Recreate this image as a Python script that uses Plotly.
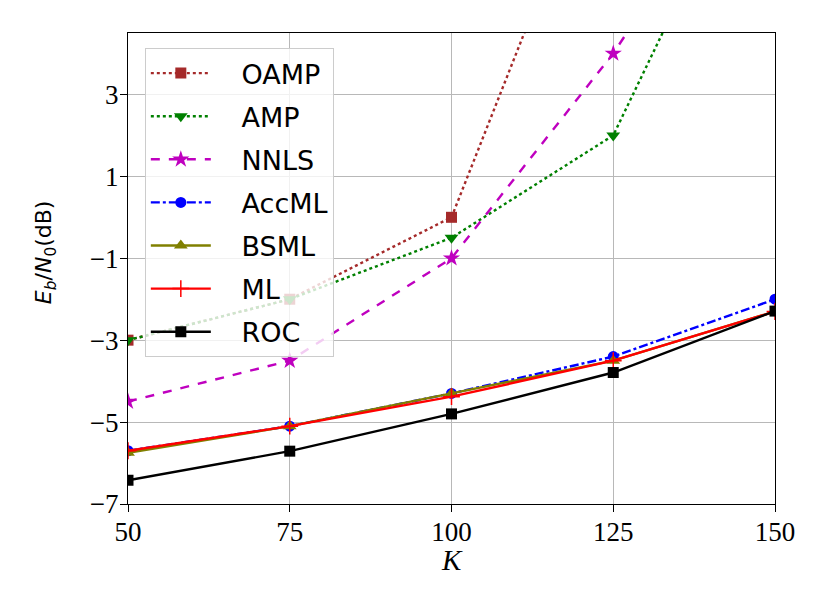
import plotly.graph_objects as go

K = [50, 75, 100, 125, 150]
oamp = [-3.0, -2.0, 0.0, 10.0, 15.0]
amp = [-3.0, -2.0, -0.5, 2.0, 10.2]
nnls = [-4.5, -3.5, -1.0, 4.0, 10.0]
accml = [-5.7, -5.1, -4.3, -3.4, -2.0]
bsml = [-5.75, -5.1, -4.3, -3.5, -2.3]
ml = [-5.7, -5.1, -4.38, -3.5, -2.3]
roc = [-6.42, -5.71, -4.8, -3.79, -2.29]

yticks = [-7, -5, -3, -1, 1, 3]
xticks = [50, 75, 100, 125, 150]

series = [
    ("OAMP", oamp, "#a52a2a", "dot", "square", 11, None),
    ("AMP", amp, "#008000", "dot", "triangle-down", 12, None),
    ("NNLS", nnls, "#bf00bf", "dash", "star", 13, None),
    ("AccML", accml, "#0000ff", "dashdot", "circle", 11, None),
    ("BSML", bsml, "#808000", "solid", "triangle-up", 12, None),
    ("ML", ml, "#ff0000", "solid", "cross-thin", 12, 1.5),
    ("ROC", roc, "#000000", "solid", "square", 11, None),
]

fig = go.Figure()
for name, vals, color, dash, sym, size, mlw in series:
    marker = dict(symbol=sym, size=size, color=color)
    if mlw:
        marker["line"] = dict(color=color, width=mlw)
    fig.add_trace(go.Scatter(
        x=K, y=vals, name="&nbsp;&nbsp;&nbsp;" + name, legendgroup=name,
        mode="lines+markers",
        line=dict(color=color, dash=dash, width=2.4),
        marker=marker,
    ))

axis_common = dict(
    showline=True, linecolor="black", linewidth=1.2, mirror=True,
    ticks="outside", ticklen=7, tickcolor="black", tickwidth=1.2,
    showgrid=True, gridcolor="#b8b8b8", gridwidth=0.8,
    zeroline=False,
    tickfont=dict(family="Liberation Serif", size=27, color="black"),
)

fig.update_layout(
    width=822, height=601,
    margin=dict(l=120, r=55, t=25, b=105),
    paper_bgcolor="white", plot_bgcolor="white",
    xaxis=dict(range=[50, 150], tickvals=xticks, ticklabelstandoff=-4, **axis_common),
    yaxis=dict(range=[-7, 4.5], tickvals=yticks, ticklabelstandoff=-4, **axis_common),
    legend=dict(
        x=0.026, y=0.968, xanchor="left", yanchor="top",
        bgcolor="rgba(255,255,255,0.8)", bordercolor="#cccccc", borderwidth=1,
        font=dict(family="DejaVu Sans", size=27, color="black"),
        tracegroupgap=5, itemwidth=60,
    ),
    showlegend=True,
    annotations=[
        dict(text="<i>K</i>", xref="paper", yref="paper", x=0.5, y=-0.118,
             xanchor="center", yanchor="middle", showarrow=False,
             font=dict(family="Liberation Serif", size=29, color="black")),
        dict(text="<i>E<sub>b</sub></i>/<i>N</i><sub>0</sub>(dB)", xref="paper", yref="paper",
             x=-0.128, y=0.535, xanchor="center", yanchor="middle", showarrow=False,
             textangle=-90, font=dict(family="DejaVu Sans", size=22, color="black")),
    ],
)

fig.write_html("out.html")
